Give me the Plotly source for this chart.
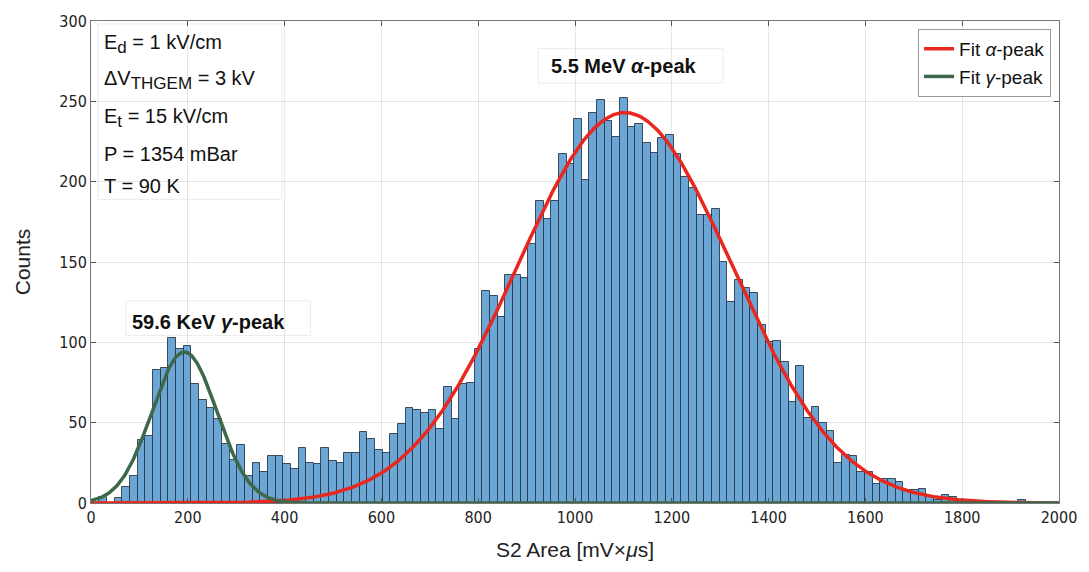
import numpy as np
import plotly.graph_objects as go

# ---------------- data ----------------
BIN_START = 1.6
BIN_WIDTH = 15.82
counts = [0, 4, 0, 3, 10, 17, 39, 42, 83, 84,
          103, 96, 98, 74, 64, 59, 52, 37, 27, 36,
          17, 25, 19, 29, 29, 24, 21, 34, 25, 24,
          34, 26, 25, 31, 31, 44, 40, 33, 31, 43,
          49, 59, 58, 56, 58, 46, 72, 52, 74, 75,
          96, 132, 129, 116, 142, 142, 140, 161, 188, 177,
          188, 217, 211, 239, 201, 243, 251, 238, 228, 252,
          234, 236, 224, 218, 227, 229, 217, 203, 196, 179,
          179, 183, 150, 125, 139, 134, 131, 111, 100, 101,
          88, 63, 85, 53, 60, 50, 45, 25, 30, 29,
          19, 19, 12, 15, 15, 13, 8, 8, 9, 4,
          2, 5, 4, 2, 1, 0, 0, 0, 0, 0,
          0, 2, 0, 0, 0, 0]

# Gaussian fit parameters: amplitude, mean, sigma
alpha_fit = [243, 1103, 222]
gamma_fit = [94, 193, 67]

x_ticks = [0, 200, 400, 600, 800, 1000, 1200, 1400, 1600, 1800, 2000]
y_ticks = [0, 50, 100, 150, 200, 250, 300]

SUB = "<sub><span style='font-size:17px'>{}</span></sub>"
info_lines = ["E" + SUB.format("d") + " = 1 kV/cm",
              "ΔV" + SUB.format("THGEM") + " = 3 kV",
              "E" + SUB.format("t") + " = 15 kV/cm",
              "P = 1354 mBar",
              "T = 90 K"]

# ---------------- figure ----------------
W, H = 1089, 572
ML, MR, MT, MB = 91, 24, 14, 69
PW, PH = W - ML - MR, H - MT - MB


def px(x):
    return (x - ML) / PW


def py(y):
    return (H - MB - y) / PH


centers = BIN_START + BIN_WIDTH * (np.arange(len(counts)) + 0.5)
xs = np.linspace(0, 2000, 1001)


def gauss(p, x):
    a, m, s = p
    return a * np.exp(-(x - m) ** 2 / (2 * s ** 2))


fig = go.Figure()
fig.add_trace(go.Bar(
    x=centers, y=counts, width=BIN_WIDTH,
    marker=dict(color="rgb(108,166,212)",
                line=dict(color="rgba(35,50,70,0.85)", width=1)),
    showlegend=False, hoverinfo="x+y"))
fig.add_trace(go.Scatter(
    x=xs, y=gauss(alpha_fit, xs), mode="lines",
    line=dict(color="rgb(232,40,30)", width=3.5),
    name="Fit <i>α</i>-peak"))
fig.add_trace(go.Scatter(
    x=xs, y=gauss(gamma_fit, xs), mode="lines",
    line=dict(color="rgb(62,104,74)", width=3.5),
    name="Fit <i>γ</i>-peak"))

TICKFONT = dict(family="Liberation Sans Narrow, DejaVu Sans Condensed, Arial Narrow, sans-serif",
                size=16, color="#222")
TXT = "Liberation Sans, Arial, sans-serif"

fig.update_xaxes(range=[0, 2000], tickvals=x_ticks, ticks="inside", ticklen=5,
                 tickcolor="#555", mirror="allticks", showline=True,
                 linecolor="#777", linewidth=1, showgrid=True,
                 gridcolor="rgba(0,0,0,0.10)", zeroline=False, tickfont=TICKFONT,
                 title=dict(text="S2 Area [mV×<i>μ</i>s]",
                            font=dict(family=TXT, size=21, color="#222"),
                            standoff=16))
fig.update_yaxes(range=[0, 300], tickvals=y_ticks, ticks="inside", ticklen=5,
                 tickcolor="#555", mirror="allticks", showline=True,
                 linecolor="#777", linewidth=1, showgrid=True,
                 gridcolor="rgba(0,0,0,0.10)", zeroline=False, tickfont=TICKFONT,
                 title=dict(text="Counts",
                            font=dict(family=TXT, size=21, color="#222"),
                            standoff=22))

annotations = []
line_y = [37, 74, 112, 149, 181]
for t, yy in zip(info_lines, line_y):
    annotations.append(dict(xref="paper", yref="paper", x=px(102), y=py(yy),
                            xanchor="left", yanchor="middle", showarrow=False,
                            text=t, font=dict(family=TXT, size=20, color="#111")))
annotations.append(dict(xref="paper", yref="paper", x=px(209), y=py(319),
                        xanchor="center", yanchor="middle", showarrow=False,
                        text="<b>59.6 KeV <i>γ</i>-peak</b>",
                        font=dict(family=TXT, size=20, color="#111")))
annotations.append(dict(xref="paper", yref="paper", x=px(627), y=py(60),
                        xanchor="center", yanchor="middle", showarrow=False,
                        text="<b>5.5 MeV <i>α</i>-peak</b>",
                        font=dict(family=TXT, size=20, color="#111")))

shapes = []
for (x0, y0, x1, y1) in [(98, 17, 283, 195), (126, 298, 312, 333), (541, 42, 727, 77)]:
    shapes.append(dict(type="rect", xref="paper", yref="paper",
                       x0=px(x0), x1=px(x1), y0=py(y0), y1=py(y1),
                       line=dict(color="rgba(0,0,0,0.08)", width=1),
                       fillcolor="rgba(0,0,0,0)", layer="above"))

fig.update_layout(
    width=W, height=H,
    margin=dict(l=ML, r=MR, t=MT, b=MB),
    plot_bgcolor="white", paper_bgcolor="white",
    bargap=0,
    annotations=annotations, shapes=shapes,
    legend=dict(x=px(1057), y=py(22), xanchor="right", yanchor="top",
                bgcolor="white", bordercolor="#999", borderwidth=1,
                font=dict(family=TXT, size=19, color="#111"),
                itemwidth=30, tracegroupgap=0),
    font=dict(family=TXT),
)

fig.write_html("out.html")
